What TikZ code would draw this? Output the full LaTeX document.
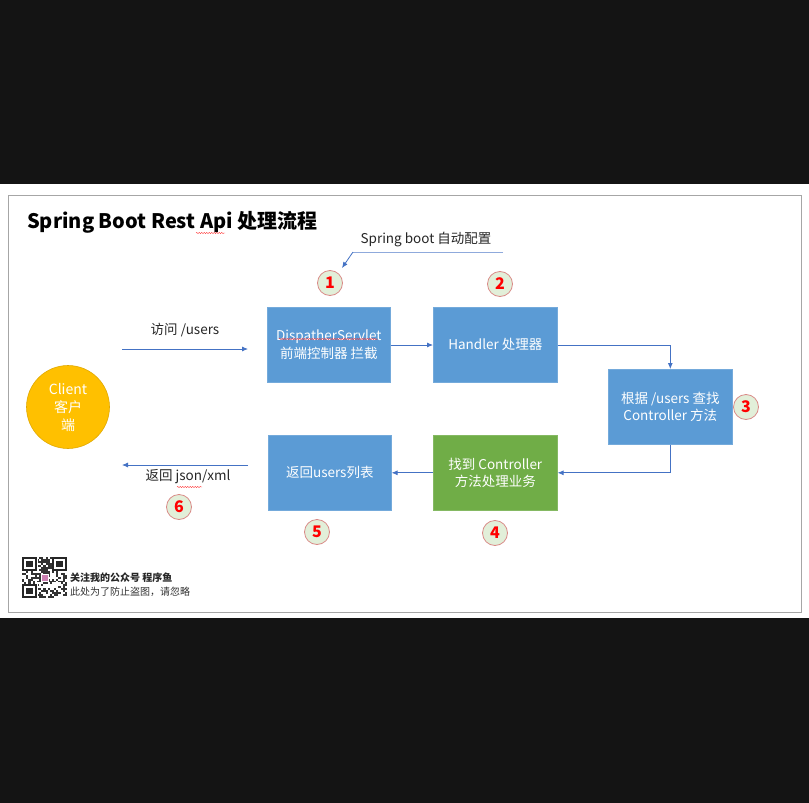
\documentclass[tikz,border=0pt]{standalone}
\usepackage{fontspec}
\setmainfont{Noto Sans CJK SC}
\usetikzlibrary{arrows.meta,decorations.pathmorphing}
\definecolor{boxblue}{HTML}{5B9BD5}
\definecolor{boxgreen}{HTML}{70AD47}
\definecolor{arrowblue}{HTML}{4472C4}
\definecolor{clientorange}{HTML}{FFC000}
\definecolor{clientline}{HTML}{E0A800}
\definecolor{numfill}{HTML}{E2EFD9}
\definecolor{numline}{HTML}{D98A87}
\definecolor{framegray}{HTML}{A6A6A6}
\definecolor{cfgline}{HTML}{8FAADC}
\begin{document}
\begin{tikzpicture}[x=1pt,y=-1pt,
  proc/.style={fill=#1, draw=#1!85!white, line width=0.6pt, minimum height=75pt,
    text=white, font=\fontsize{13.5}{17.5}\selectfont, align=center, inner sep=0pt, anchor=north west},
  proc/.default=boxblue,
  flow/.style={draw=arrowblue, line width=0.8pt, -{Latex[length=6pt,width=5pt]}},
  num/.style={circle, fill=numfill, draw=numline, line width=0.8pt, minimum size=25pt, inner sep=0pt,
    text=red, font=\fontsize{16}{16}\selectfont\bfseries},
  lbl/.style={font=\fontsize{13.5}{15}\selectfont, text=black!85},
  squig/.style={draw=red!80, line width=0.4pt, decorate, decoration={snake, amplitude=0.6pt, segment length=2.5pt}}
]
% background & black bands
\fill[black!92] (0,0) rectangle (809,803);
\fill[white] (0,184) rectangle (809,618);
\useasboundingbox (0,0) rectangle (809,803);
% frame
\draw[framegray, line width=0.8pt] (8,195) rectangle (801,612);

% title
\node[anchor=west, font=\fontsize{20}{23}\selectfont\bfseries, inner sep=0pt] (title) at (27,222) {Spring Boot Rest Api 处理流程};
\draw[squig] (196,233) -- (225,233);

% nodes
\node[circle, fill=clientorange, draw=clientline, line width=0.6pt, minimum size=83pt, inner sep=0pt,
  text=white, align=center, font=\fontsize{14}{18}\selectfont] (client) at (68,407) {Client\\客户\\端};
\node[proc, minimum width=123pt] (b1) at (267,307) {DispatherServlet\\前端控制器 拦截};
\draw[squig] (279,339) -- (378,339);
\node[proc, minimum width=124pt] (b2) at (433,307) {Handler 处理器};
\node[proc, minimum width=124pt] (b3) at (608,369) {根据 /users 查找\\Controller 方法};
\node[proc=boxgreen, minimum width=124pt] (b4) at (433,435) {找到 Controller\\方法处理业务};
\node[proc, minimum width=123pt] (b5) at (268,435) {返回users列表};

% number badges
\node[num] (n1) at (330,283) {1};
\node[num] (n2) at (500,284) {2};
\node[num] (n3) at (746,407) {3};
\node[num] (n4) at (495,533) {4};
\node[num] (n5) at (317,532) {5};
\node[num] (n6) at (179,507) {6};

% auto configuration
\node[lbl, anchor=center] (cfg) at (426,240) {Spring boot 自动配置};
\coordinate (cfgR) at (503,252);
\coordinate (cfgL) at (353,252);
\coordinate (cfgTip) at (342,268);
\draw[cfgline, line width=0.8pt] (cfgR) -- (cfgL);
\draw[flow] (cfgL) -- (cfgTip);

% request
\coordinate (reqS) at (122,349);
\coordinate (reqE) at (248,349);
\draw[flow] (reqS) -- (reqE);
\node[lbl] (req) at (185,330) {访问 /users};

% flow
\draw[flow] (b1.east |- 0,345) -- (b2.west |- 0,345);
\draw[flow] (b2.east |- 0,345) -| (b3.north);
\draw[flow] (b3.south) |- (b4.east);
\draw[flow] (b4.west) -- (b5.east);

% response
\coordinate (resS) at (248,465);
\coordinate (resE) at (122,465);
\draw[flow] (resS) -- (resE);
\node[lbl] (res) at (188,477) {返回 json/xml};
\draw[squig] (177,487) -- (202,487);

% QR code
\begin{scope}
\pgfmathsetseed{17}
\foreach \i in {0,...,20}{
  \foreach \j in {0,...,20}{
    \pgfmathparse{rnd>0.5?1:0}
    \ifnum\pgfmathresult=1
      \fill[black!80] (22+\i*2.14,557+\j*1.96) rectangle ++(2.14,1.96);
    \fi
  }
}
\foreach \px/\py in {22/557, 52/557, 22/584.4}{
  \fill[white] (\px-0.5,\py-0.5) rectangle ++(16,14.7);
  \fill[black!85] (\px,\py) rectangle ++(15,13.7);
  \fill[white] (\px+2.14,\py+1.96) rectangle ++(10.7,9.8);
  \fill[black!85] (\px+4.28,\py+3.92) rectangle ++(6.42,5.88);
}
\fill[white] (41,574) rectangle ++(8,8);
\fill[red!60!blue!50] (42,575) rectangle ++(6,6);
\node[inner sep=0pt] (qr) at (44.5,577.5) {};
\end{scope}
\node[anchor=west, inner sep=0pt, font=\fontsize{10}{12}\selectfont\bfseries, text=black!85] (follow) at (70,578) {关注我的公众号 程序鱼};
\node[anchor=west, inner sep=0pt, font=\fontsize{10}{12}\selectfont, text=black!80] (note) at (70,592) {此处为了防止盗图，请忽略};
\end{tikzpicture}
\end{document}
